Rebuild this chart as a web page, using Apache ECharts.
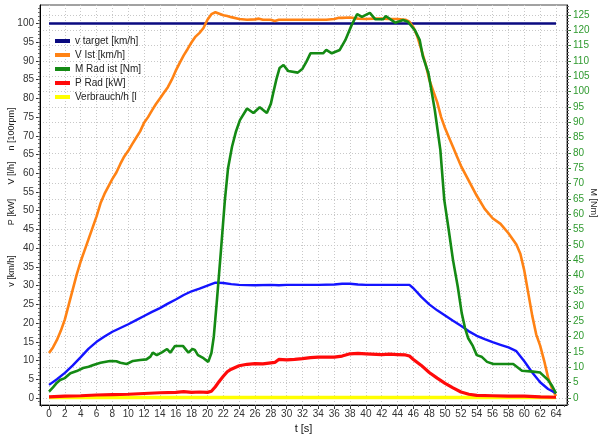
<!DOCTYPE html>
<html><head><meta charset="utf-8">
<script src="https://cdn.jsdelivr.net/npm/echarts@6/dist/echarts.min.js"></script>
<style>html,body{margin:0;padding:0;background:#fff}#c{width:601px;height:441px}</style>
</head><body><div id="c"></div>
<script>
// ---- tick labels ----
const xTicks = [0,2,4,6,8,10,12,14,16,18,20,22,24,26,28,30,32,34,36,38,40,42,44,46,48,50,52,54,56,58,60,62,64];
const leftTicks = [0,5,10,15,20,25,30,35,40,45,50,55,60,65,70,75,80,85,90,95,100];
const rightTicks = [0,5,10,15,20,25,30,35,40,45,50,55,60,65,70,75,80,85,90,95,100,105,110,115,120,125];

// ---- series names ----
const names = ['v target [km/h]','V Ist [km/h]','M Rad ist [Nm]','P Rad [kW]','Verbrauch/h [l/h]'];

// ---- series values [t, value] ----
const vTarget = [[0,100],[8,100],[16,100],[24,100],[32,100],[40,100],[48,100],[56,100],[64,100]];
const vIst = [[0,12],[0.5,13.5],[1,15.5],[1.5,18],[2,21],[2.5,25],[3,29],[3.5,33],[4,36.5],[4.5,39.5],[5,42.5],[5.5,45.5],[6,48.5],[6.5,52],[7,54.5],[7.5,56.5],[8,58.5],[8.5,60.2],[9,62.5],[9.5,64.5],[10,66],[10.5,67.8],[11,69.5],[11.5,71.2],[12,73.5],[12.5,75],[13,76.8],[13.5,78.5],[14,80],[14.5,81.5],[15,83],[15.5,85],[16,87.4],[16.5,89.5],[17,91.5],[17.5,93.2],[18,95],[18.5,96.5],[19,97.5],[19.5,98.8],[20,101],[20.5,102.5],[21,103],[21.5,102.6],[22,102.2],[22.5,102],[23,101.7],[24,101.2],[25,101],[26,101.1],[26.5,101.3],[27,101],[28,101],[28.5,100.7],[29,101],[30,101],[31,101],[32,101],[33,101],[34,101],[35,101],[36,101.2],[36.5,101.5],[37,101.5],[38,101.6],[39,101.3],[40,101.2],[41,101.3],[42,101.3],[43,101.2],[44,101.2],[45,101],[45.5,100.5],[46,99],[46.5,96.5],[47,93],[47.5,89.5],[48,85],[48.5,82],[49,79],[49.5,75],[50,72],[50.5,69.5],[51,67],[51.5,64.5],[52,62],[53,58],[54,54],[55,50.5],[56,48],[57,46.5],[58,44],[59,41],[59.5,38.5],[60,34],[60.5,28],[61,22],[61.5,17],[62,14],[62.5,10],[63,5.5],[63.5,2.5],[64,0.5]];
const nBlue = [[0,3.5],[1,5],[2,6.7],[3,8.7],[4,10.9],[5,13.2],[6,15],[7,16.4],[8,17.7],[9,18.7],[10,19.7],[11,20.8],[12,21.9],[13,23],[14,24],[15,25.2],[16,26.3],[17,27.5],[18,28.5],[19,29.2],[20,30],[21,30.8],[22,30.7],[23,30.4],[24,30.2],[26,30.1],[28,30.2],[29,30.1],[30,30.2],[32,30.2],[34,30.2],[36,30.3],[37,30.5],[38,30.5],[39,30.3],[40,30.2],[42,30.2],[44,30.2],[45.5,30.2],[46,29.3],[47,27],[48,25],[49,23.4],[50,22],[51,20.6],[52,19.3],[53,17.8],[54,16.6],[55,15.7],[56,14.9],[57,14.2],[58,13.5],[59,12.5],[60,9.8],[61,6.8],[62,4.2],[63,2.4],[64,1.3]];
const pRad = [[0,0.3],[2,0.5],[4,0.6],[6,0.8],[8,0.9],[10,1.0],[12,1.2],[14,1.4],[16,1.5],[17,1.7],[18,1.5],[19,1.6],[20,1.5],[20.5,1.8],[21,3],[21.5,4.5],[22,5.8],[22.5,7],[23,7.7],[24,8.6],[25,9],[26,9.2],[27,9.1],[28,9.4],[28.5,9.5],[29,10.3],[30,10.2],[31,10.3],[32,10.5],[33,10.8],[34,10.9],[36,10.9],[37,11.2],[38,11.8],[39,11.9],[40,11.8],[42,11.6],[43,11.7],[44,11.6],[45,11.5],[45.5,11.2],[46,10.3],[47,8.7],[48,6.8],[49,5.3],[50,3.9],[51,2.7],[52,1.6],[53,1.0],[54,0.7],[56,0.6],[58,0.5],[60,0.5],[62,0.3],[64,0.2]];
const mRad = [[0,2.1],[0.5,3.5],[1,5],[1.4,5.9],[2,6.5],[2.7,8.1],[3.5,8.8],[4.3,9.8],[5,10.2],[5.6,10.8],[6.5,11.5],[7.7,12.1],[8.5,12],[9,11.5],[9.8,11.1],[10.6,12.1],[11.5,12.4],[12.3,12.6],[12.8,13.5],[13.1,14.8],[13.6,14],[14.3,15],[14.9,16],[15.3,14.8],[15.9,17],[16.9,17],[17.6,14.8],[18.1,16],[18.4,15.7],[18.8,14],[19.5,13],[20.1,11.8],[20.5,14.7],[20.8,20],[21.2,32],[21.7,48],[22.2,64.6],[22.6,75],[23.1,82],[23.6,87],[24.1,90.7],[25,94.5],[25.8,93],[26.6,94.9],[27.5,93],[28,96],[28.3,99.5],[28.7,104],[29.1,107.7],[29.6,108.7],[30.2,106.7],[31.4,106.2],[32,107.5],[32.5,109.8],[33,112.5],[34.6,112.5],[35,113.6],[35.7,112.5],[36.7,113.6],[37.4,116.8],[38.2,121.7],[38.9,125.3],[39.5,124.4],[40.5,125.7],[41.2,123.6],[42.2,123.6],[42.5,124.7],[43.7,122.5],[44.7,123.4],[45.3,122.8],[46.2,120],[46.8,116.8],[47.2,111.4],[47.9,106],[48.3,100],[48.7,94],[49.4,81],[49.9,64.6],[50.4,55.9],[51,45],[51.6,36.3],[52.1,27.7],[52.5,23],[52.9,19.6],[53.5,17],[54,14],[54.6,13.5],[55.3,11.8],[56.1,11.1],[58.6,11.1],[59.7,8.9],[61.1,8.6],[62,8.3],[63,5.9],[63.5,4],[64,1.5]];
const verbrauch = [[0,0.1],[16,0.1],[32,0.1],[48,0.1],[64,0.1]];

// ---- layout helpers ----
function range(a, b, s) { const r = []; for (let v = a; v <= b + 1e-9; v += s) r.push(Math.round(v * 100) / 100); return r; }
const X_MIN = -1.14, X_MAX = 65.39;
const L_MIN = -1.87, L_MAX = 104.94;
const R_MIN = -2.28, R_MAX = 128.27;
const FONT = 'Liberation Sans, Arial, sans-serif';
const grid = '#c8c8c8';

const chart = echarts.init(document.getElementById('c'), null, {renderer: 'canvas'});
const lineS = (name, data, color, width, yIdx, z) => ({
  name, type: 'line', data, xAxisIndex: 0, yAxisIndex: yIdx, showSymbol: false, symbol: 'none',
  lineStyle: {color, width}, itemStyle: {color}, z, silent: true
});
const title = (text, x, y, rot) => ({type: 'text', x, y, rotation: rot,
  style: {text, fontSize: 9, fontFamily: FONT, fill: '#222', align: 'center', verticalAlign: 'middle'}});

chart.setOption({
  animation: false,
  backgroundColor: '#fff',
  grid: {left: 40, right: 34, top: 5, bottom: 36, show: true, borderColor: '#444', borderWidth: 1},
  legend: {
    data: names, orient: 'vertical', left: 55, top: 34, padding: 0, itemGap: 0,
    itemWidth: 15, itemHeight: 4, icon: 'rect', selectedMode: false,
    formatter: n => n === 'Verbrauch/h [l/h]' ? 'Verbrauch/h [l' : n,
    textStyle: {fontSize: 10, color: '#222', fontFamily: FONT, lineHeight: 14}
  },
  xAxis: [
    {type: 'value', min: X_MIN, max: X_MAX, position: 'bottom',
     axisLine: {show: true, onZero: false, lineStyle: {color: '#000', width: 1}},
     axisTick: {show: true, customValues: xTicks, length: 4, lineStyle: {color: '#333'}},
     axisLabel: {customValues: xTicks, fontSize: 10, color: '#333', fontFamily: FONT, margin: 4},
     splitLine: {show: true, lineStyle: {color: grid, type: [1, 2], width: 1}},
     name: 't [s]', nameLocation: 'middle', nameGap: 17,
     nameTextStyle: {fontSize: 11, color: '#111', fontFamily: FONT}},
    {type: 'value', min: X_MIN, max: X_MAX, position: 'bottom',
     axisLine: {show: false, onZero: false},
     axisTick: {show: true, customValues: range(-1, 65, 1), length: 2, lineStyle: {color: '#555'}},
     axisLabel: {show: false}, splitLine: {show: false}}
  ],
  yAxis: [
    {type: 'value', min: L_MIN, max: L_MAX, position: 'left',
     axisLine: {show: true, onZero: false, lineStyle: {color: '#000', width: 1}},
     axisTick: {show: true, customValues: leftTicks, length: 4, lineStyle: {color: '#333'}},
     axisLabel: {customValues: leftTicks, fontSize: 10, color: '#333', fontFamily: FONT, margin: 6},
     splitLine: {show: false}},
    {type: 'value', min: R_MIN, max: R_MAX, position: 'right',
     axisLine: {show: true, onZero: false, lineStyle: {color: '#000', width: 1}},
     axisTick: {show: true, customValues: rightTicks, length: 4, lineStyle: {color: '#2f8f2f'}},
     axisLabel: {customValues: rightTicks, fontSize: 10, color: '#2f9a2f', fontFamily: FONT, margin: 6},
     splitLine: {show: true, lineStyle: {color: grid, type: [1, 2], width: 1}}},
    {type: 'value', min: L_MIN, max: L_MAX, position: 'left',
     axisLine: {show: false, onZero: false},
     axisTick: {show: true, customValues: range(-1, 104, 1), length: 2, lineStyle: {color: '#666'}},
     axisLabel: {show: false}, splitLine: {show: false}},
    {type: 'value', min: R_MIN, max: R_MAX, position: 'right',
     axisLine: {show: false, onZero: false},
     axisTick: {show: true, customValues: range(-2, 128, 1), length: 2, lineStyle: {color: '#666'}},
     axisLabel: {show: false}, splitLine: {show: false}}
  ],
  graphic: [
    title('v [km/h]', 12, 271, -Math.PI / 2 * -1),
    title('P [kW]', 12, 212, Math.PI / 2),
    title('V [l/h]', 12, 173, Math.PI / 2),
    title('n [100rpm]', 12, 129, Math.PI / 2),
    title('M [Nm]', 593, 203, -Math.PI / 2)
  ],
  series: [
    lineS(names[0], vTarget, '#0a0a80', 2.5, 0, 2),
    lineS(names[1], vIst, '#ff8214', 2.6, 0, 3),
    lineS('n [100rpm]', nBlue, '#1414ff', 2.4, 0, 4),
    lineS(names[4], verbrauch, '#ffff00', 3.5, 0, 5),
    lineS(names[3], pRad, '#ff0a0a', 3.2, 0, 6),
    lineS(names[2], mRad, '#148a14', 2.6, 1, 7)
  ]
});
</script>
</body></html>
